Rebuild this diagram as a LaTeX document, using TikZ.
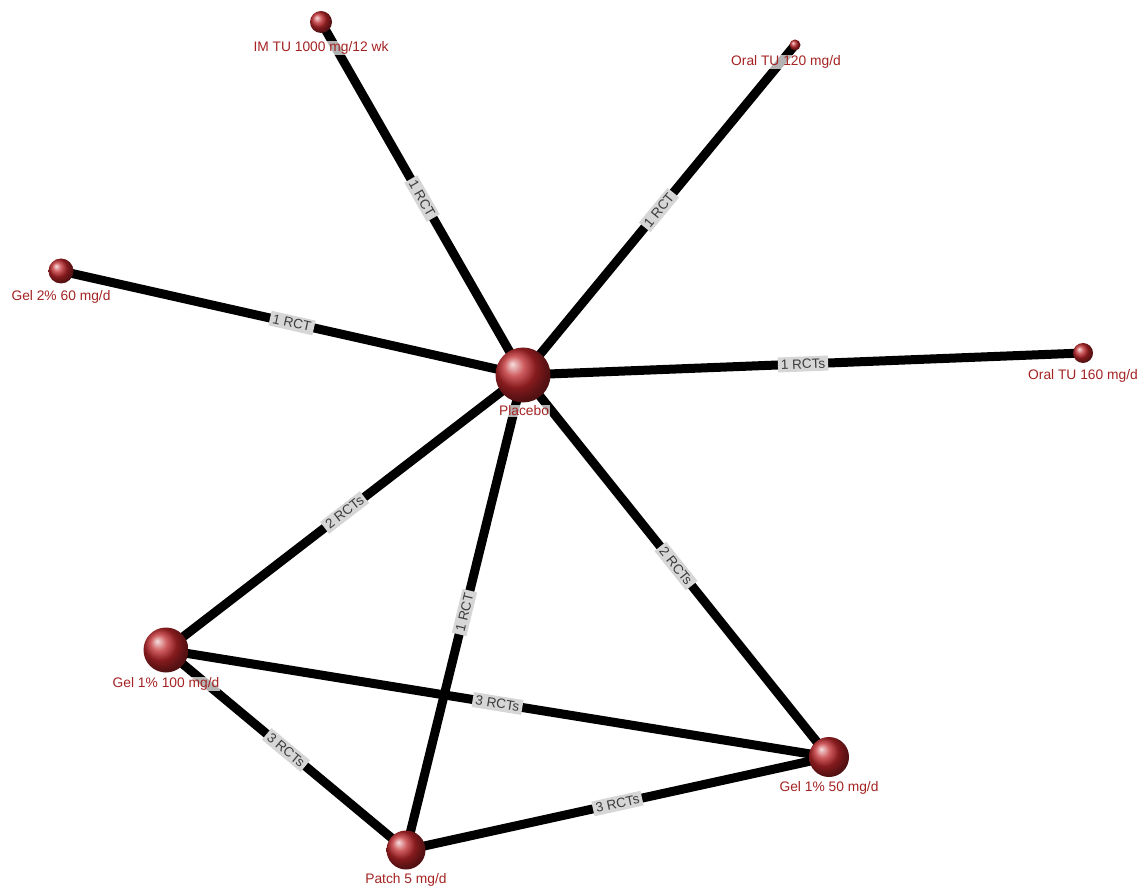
\documentclass[tikz,border=0pt]{standalone}
\usepackage{fontspec}
\setmainfont{Liberation Sans}
\pgfdeclarelayer{bg}
\pgfsetlayers{bg,main}
\definecolor{sph}{RGB}{190,38,42}
\definecolor{lab}{RGB}{165,35,35}
\definecolor{boxg}{RGB}{214,214,214}
\definecolor{btxt}{RGB}{60,60,60}
\tikzset{
  sphere/.style={circle, ball color=sph, inner sep=0pt, minimum size=#1},
  nlabel/.style={text=lab, font=\fontsize{13.8}{14}\selectfont, inner sep=1pt, fill=white, fill opacity=0.7, text opacity=1},
  edge/.style={line width=9pt, black},
  elabel/.style={midway, sloped, fill=boxg, text=btxt, font=\fontsize{13.5}{14}\selectfont, inner xsep=3pt, inner ysep=1pt, minimum height=15pt}
}
\begin{document}
\begin{tikzpicture}[x=1pt,y=-1pt]
\useasboundingbox (0,0) rectangle (1146,890);
% spheres
\node[sphere=55pt] (plac) at (523,375) {};
\node[sphere=22pt] (imtu) at (321,22) {};
\node[sphere=11pt] (or120) at (795,45) {};
\node[sphere=25pt] (gel2) at (61,271) {};
\node[sphere=20pt] (or160) at (1083,353) {};
\node[sphere=45pt] (gel100) at (166,650) {};
\node[sphere=40pt] (gel50) at (829,757) {};
\node[sphere=39pt] (patch) at (406,850) {};
% edges
\begin{pgfonlayer}{bg}
\draw[edge] (imtu.center) -- (plac.center) node[elabel] {1 RCT};
\draw[edge] (or120.center) -- (plac.center) node[elabel] {1 RCT};
\draw[edge] (gel2.center) -- (plac.center) node[elabel] {1 RCT};
\draw[edge] (plac.center) -- (or160.center) node[elabel] {1 RCTs};
\draw[edge] (plac.center) -- (gel100.center) node[elabel] {2 RCTs};
\draw[edge] (plac.center) -- (patch.center) node[elabel] {1 RCT};
\draw[edge] (plac.center) -- (gel50.center) node[elabel] {2 RCTs};
\draw[edge] (gel100.center) -- (gel50.center) node[elabel] {3 RCTs};
\draw[edge] (gel100.center) -- (patch.center) node[elabel] {3 RCTs};
\draw[edge] (patch.center) -- (gel50.center) node[elabel] {3 RCTs};
\end{pgfonlayer}
% labels
\node[nlabel] (l-imtu) at (321,48) {IM TU 1000 mg/12 wk};
\node[nlabel] (l-or120) at (786,62) {Oral TU 120 mg/d};
\node[nlabel] (l-gel2) at (61,297) {Gel 2\% 60 mg/d};
\node[nlabel] (l-plac) at (524,411) {Placebo};
\node[nlabel] (l-or160) at (1083,376) {Oral TU 160 mg/d};
\node[nlabel] (l-gel100) at (166,684) {Gel 1\% 100 mg/d};
\node[nlabel] (l-gel50) at (829,788) {Gel 1\% 50 mg/d};
\node[nlabel] (l-patch) at (406,880) {Patch 5 mg/d};
\end{tikzpicture}
\end{document}
